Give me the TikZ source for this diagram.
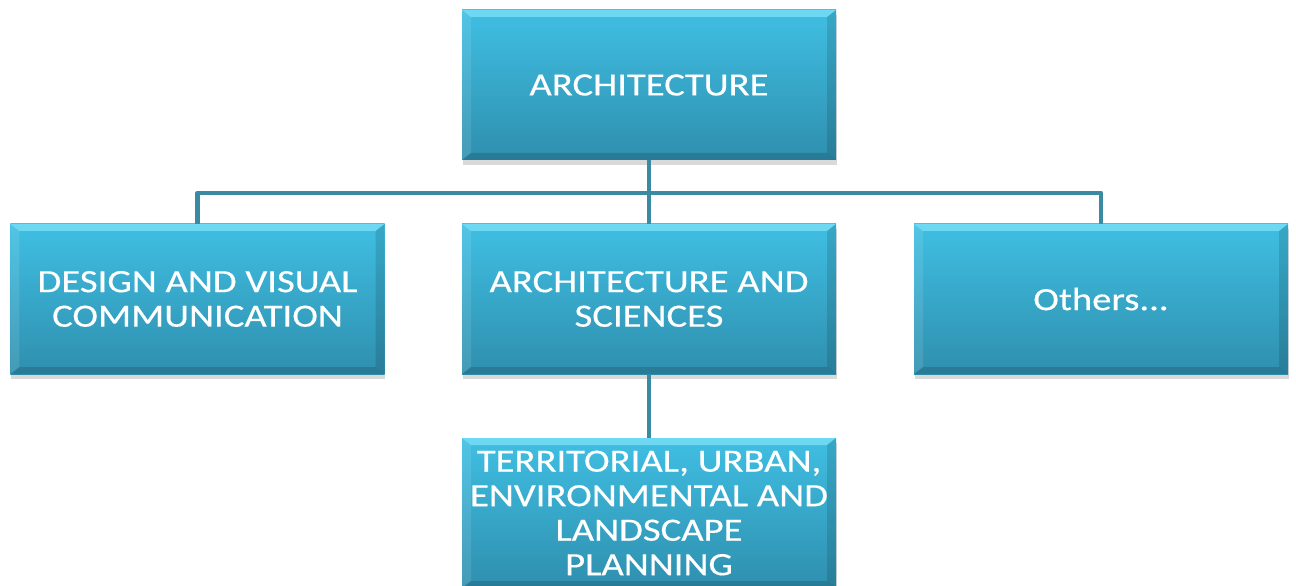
\documentclass[tikz,border=0pt]{standalone}
\usepackage{fontspec}
\setmainfont{Carlito}[FakeStretch=1.19,FakeBold=0.4]
\usetikzlibrary{shadows,calc}
\definecolor{boxtop}{HTML}{3FBFE3}
\definecolor{boxbot}{HTML}{2F8FAE}
\definecolor{linecol}{HTML}{3A8AA3}
\definecolor{hilite}{HTML}{7FE2FA}
\tikzset{
  orgbox/.style={rectangle, minimum width=374bp, minimum height=150bp,
    inner sep=0pt, align=center, text=white,
    top color=boxtop, bottom color=boxbot,
    font=\fontsize{32.5bp}{34.5bp}\selectfont,
    drop shadow={shadow xshift=0.5bp, shadow yshift=-5bp, opacity=0.25, fill=black!60},
    path picture={
      \fill[hilite,opacity=0.75] (path picture bounding box.north west) -- (path picture bounding box.north east)
        -- ([xshift=-9bp,yshift=-7bp]path picture bounding box.north east) -- ([xshift=9bp,yshift=-7bp]path picture bounding box.north west) -- cycle;
      \fill[black,opacity=0.14] (path picture bounding box.south west) -- (path picture bounding box.south east)
        -- ([xshift=-9bp,yshift=7bp]path picture bounding box.south east) -- ([xshift=9bp,yshift=7bp]path picture bounding box.south west) -- cycle;
      \fill[black,opacity=0.12] (path picture bounding box.north east) -- (path picture bounding box.south east)
        -- ([xshift=-9bp,yshift=7bp]path picture bounding box.south east) -- ([xshift=-9bp,yshift=-7bp]path picture bounding box.north east) -- cycle;
      \fill[white,opacity=0.10] (path picture bounding box.north west) -- (path picture bounding box.south west)
        -- ([xshift=9bp,yshift=7bp]path picture bounding box.south west) -- ([xshift=9bp,yshift=-7bp]path picture bounding box.north west) -- cycle;
    }},
  conn/.style={draw=linecol, line width=4.5bp, line join=round}
}
\begin{document}
\begin{tikzpicture}[x=1bp,y=-1bp]
  \useasboundingbox (0,0) rectangle (1296,586);
  \begin{scope}
    \clip (0,0) rectangle (1296,586);
    \node[orgbox] (top) at (649,85) {ARCHITECTURE};
    \node[orgbox] (left) at (197.5,299) {DESIGN AND VISUAL\\COMMUNICATION};
    \node[orgbox] (mid) at (649,299) {ARCHITECTURE AND\\SCIENCES};
    \node[orgbox] (right) at (1101,299) {Others...};
    \node[orgbox] (bot) at (649,513) {TERRITORIAL, URBAN,\\ENVIRONMENTAL AND\\LANDSCAPE\\PLANNING};
    \coordinate (bus) at (649,193);
  \end{scope}
  \path[conn] (top.south) -- (mid.north);
  \path[conn] (left.north) |- (bus) -| (right.north);
  \path[conn] (mid.south) -- (bot.north);
\end{tikzpicture}
\end{document}
